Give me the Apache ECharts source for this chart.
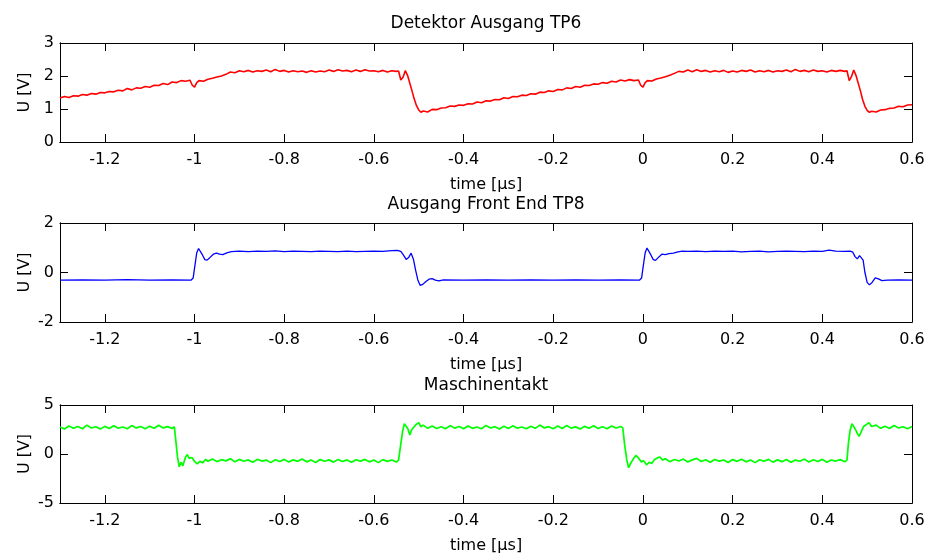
<!DOCTYPE html>
<html><head><meta charset="utf-8">
<script src="https://cdn.jsdelivr.net/npm/echarts@6/dist/echarts.min.js"></script>
<style>html,body{margin:0;padding:0;background:#fff}#c{width:931px;height:555px}</style>
</head><body><div id="c"></div>
<script>
var titles = ['Detektor Ausgang TP6', 'Ausgang Front End TP8', 'Maschinentakt'];
var xName = 'time [\u00b5s]';
var yName = 'U [V]';
var xRange = [-1.3, 0.6];
var yRanges = [[0, 3, 1], [-2, 2, 2], [-5, 5, 5]];

var tRed = [-1.30,-1.29,-1.28,-1.27,-1.26,-1.25,-1.24,-1.23,-1.22,-1.21,-1.20,-1.19,-1.18,-1.17,-1.16,-1.15,-1.14,-1.13,-1.12,-1.11,-1.10,-1.09,-1.08,-1.07,-1.06,-1.05,-1.04,-1.03,-1.02,-1.01,-1.005,-1.000,-0.995,-0.99,-0.98,-0.97,-0.96,-0.95,-0.94,-0.93,-0.92,-0.91,-0.90,-0.89,-0.88,-0.87,-0.86,-0.85,-0.84,-0.83,-0.82,-0.81,-0.80,-0.79,-0.78,-0.77,-0.76,-0.75,-0.74,-0.73,-0.72,-0.71,-0.70,-0.69,-0.68,-0.67,-0.66,-0.65,-0.64,-0.63,-0.62,-0.61,-0.60,-0.59,-0.58,-0.57,-0.56,-0.55,-0.545,-0.540,-0.535,-0.530,-0.525,-0.515,-0.510,-0.505,-0.500,-0.495,-0.49,-0.48,-0.47,-0.46,-0.45,-0.44,-0.43,-0.42,-0.41,-0.40,-0.39,-0.38,-0.37,-0.36,-0.35,-0.34,-0.33,-0.32,-0.31,-0.30,-0.29,-0.28,-0.27,-0.26,-0.25,-0.24,-0.23,-0.22,-0.21,-0.20,-0.19,-0.18,-0.17,-0.16,-0.15,-0.14,-0.13,-0.12,-0.11,-0.10,-0.09,-0.08,-0.07,-0.06,-0.05,-0.04,-0.03,-0.02,-0.01,-0.005,0.000,0.005,0.01,0.02,0.03,0.04,0.05,0.06,0.07,0.08,0.09,0.10,0.11,0.12,0.13,0.14,0.15,0.16,0.17,0.18,0.19,0.20,0.21,0.22,0.23,0.24,0.25,0.26,0.27,0.28,0.29,0.30,0.31,0.32,0.33,0.34,0.35,0.36,0.37,0.38,0.39,0.40,0.41,0.42,0.43,0.44,0.45,0.455,0.460,0.465,0.470,0.475,0.485,0.490,0.495,0.500,0.505,0.51,0.52,0.53,0.54,0.55,0.56,0.57,0.58,0.59,0.60];
var vRed = [1.33,1.38,1.35,1.40,1.39,1.44,1.42,1.47,1.45,1.50,1.49,1.53,1.52,1.57,1.55,1.62,1.58,1.64,1.63,1.68,1.66,1.72,1.71,1.77,1.74,1.82,1.80,1.86,1.84,1.87,1.72,1.66,1.80,1.86,1.84,1.90,1.93,1.97,2.00,2.05,2.12,2.10,2.16,2.13,2.17,2.12,2.16,2.14,2.18,2.13,2.20,2.14,2.17,2.12,2.16,2.13,2.15,2.11,2.16,2.12,2.15,2.13,2.18,2.14,2.19,2.15,2.17,2.13,2.18,2.14,2.19,2.15,2.16,2.13,2.17,2.12,2.16,2.14,2.15,1.88,1.96,2.16,2.02,1.55,1.30,1.10,0.97,0.90,0.94,0.91,0.99,0.98,1.03,1.04,1.09,1.08,1.12,1.11,1.16,1.15,1.21,1.19,1.25,1.24,1.29,1.28,1.34,1.32,1.38,1.37,1.42,1.41,1.46,1.45,1.51,1.50,1.55,1.53,1.59,1.58,1.64,1.62,1.68,1.66,1.72,1.71,1.76,1.75,1.80,1.78,1.84,1.82,1.88,1.85,1.89,1.86,1.88,1.72,1.66,1.80,1.86,1.85,1.91,1.94,1.98,2.02,2.08,2.14,2.12,2.18,2.13,2.19,2.14,2.17,2.12,2.16,2.13,2.17,2.11,2.15,2.12,2.17,2.14,2.18,2.12,2.16,2.13,2.17,2.12,2.16,2.14,2.18,2.13,2.20,2.14,2.17,2.13,2.18,2.14,2.16,2.12,2.17,2.14,2.17,2.14,2.16,1.86,1.98,2.18,2.02,1.55,1.28,1.08,0.96,0.90,0.93,0.91,0.97,0.98,1.02,1.03,1.08,1.07,1.12,1.13];

var tBlue = [-1.30,-1.25,-1.20,-1.15,-1.10,-1.05,-1.008,-1.003,-0.999,-0.995,-0.991,-0.987,-0.982,-0.977,-0.972,-0.966,-0.958,-0.951,-0.944,-0.937,-0.928,-0.918,-0.90,-0.88,-0.86,-0.84,-0.82,-0.80,-0.78,-0.76,-0.74,-0.72,-0.70,-0.68,-0.66,-0.64,-0.62,-0.60,-0.58,-0.56,-0.548,-0.540,-0.534,-0.528,-0.522,-0.517,-0.512,-0.507,-0.502,-0.497,-0.491,-0.484,-0.477,-0.470,-0.463,-0.455,-0.445,-0.40,-0.35,-0.30,-0.25,-0.20,-0.15,-0.10,-0.05,-0.008,-0.003,0.001,0.005,0.009,0.013,0.018,0.023,0.028,0.034,0.042,0.050,0.058,0.068,0.078,0.088,0.10,0.12,0.14,0.16,0.18,0.20,0.22,0.24,0.26,0.28,0.30,0.32,0.34,0.36,0.38,0.40,0.415,0.43,0.45,0.462,0.468,0.473,0.478,0.483,0.487,0.491,0.495,0.500,0.505,0.511,0.518,0.525,0.533,0.545,0.57,0.60];
var vBlue = [-0.31,-0.30,-0.31,-0.29,-0.31,-0.30,-0.31,-0.22,0.30,0.80,0.97,0.92,0.70,0.52,0.50,0.60,0.74,0.78,0.74,0.72,0.79,0.84,0.86,0.84,0.86,0.85,0.87,0.84,0.86,0.85,0.84,0.86,0.85,0.84,0.86,0.84,0.85,0.86,0.85,0.88,0.89,0.85,0.70,0.53,0.62,0.78,0.55,0.10,-0.30,-0.52,-0.48,-0.36,-0.27,-0.25,-0.31,-0.34,-0.30,-0.31,-0.30,-0.31,-0.30,-0.31,-0.30,-0.31,-0.30,-0.31,-0.22,0.30,0.80,0.99,0.93,0.70,0.52,0.49,0.60,0.74,0.72,0.76,0.78,0.83,0.86,0.85,0.86,0.84,0.86,0.85,0.86,0.83,0.85,0.86,0.83,0.85,0.86,0.85,0.84,0.86,0.85,0.90,0.86,0.85,0.86,0.82,0.64,0.55,0.68,0.76,0.50,0.00,-0.40,-0.50,-0.40,-0.22,-0.26,-0.33,-0.31,-0.30,-0.31];

var tGreen = [-1.30,-1.29,-1.28,-1.27,-1.26,-1.25,-1.24,-1.23,-1.22,-1.21,-1.20,-1.19,-1.18,-1.17,-1.16,-1.15,-1.14,-1.13,-1.12,-1.11,-1.10,-1.09,-1.08,-1.07,-1.06,-1.05,-1.045,-1.042,-1.038,-1.034,-1.030,-1.026,-1.020,-1.016,-1.012,-1.006,-1.000,-0.994,-0.988,-0.982,-0.975,-0.97,-0.96,-0.95,-0.94,-0.93,-0.92,-0.91,-0.90,-0.89,-0.88,-0.87,-0.86,-0.85,-0.84,-0.83,-0.82,-0.81,-0.80,-0.79,-0.78,-0.77,-0.76,-0.75,-0.74,-0.73,-0.72,-0.71,-0.70,-0.69,-0.68,-0.67,-0.66,-0.65,-0.64,-0.63,-0.62,-0.61,-0.60,-0.59,-0.58,-0.57,-0.56,-0.55,-0.545,-0.540,-0.536,-0.532,-0.528,-0.524,-0.520,-0.516,-0.510,-0.505,-0.500,-0.495,-0.49,-0.48,-0.47,-0.46,-0.45,-0.44,-0.43,-0.42,-0.41,-0.40,-0.39,-0.38,-0.37,-0.36,-0.35,-0.34,-0.33,-0.32,-0.31,-0.30,-0.29,-0.28,-0.27,-0.26,-0.25,-0.24,-0.23,-0.22,-0.21,-0.20,-0.19,-0.18,-0.17,-0.16,-0.15,-0.14,-0.13,-0.12,-0.11,-0.10,-0.09,-0.08,-0.07,-0.06,-0.05,-0.045,-0.041,-0.036,-0.032,-0.028,-0.022,-0.016,-0.010,-0.004,0.002,0.008,0.014,0.020,0.026,0.032,0.038,0.044,0.05,0.06,0.07,0.08,0.09,0.10,0.11,0.12,0.13,0.14,0.15,0.16,0.17,0.18,0.19,0.20,0.21,0.22,0.23,0.24,0.25,0.26,0.27,0.28,0.29,0.30,0.31,0.32,0.33,0.34,0.35,0.36,0.37,0.38,0.39,0.40,0.41,0.42,0.43,0.44,0.45,0.455,0.458,0.462,0.466,0.470,0.474,0.478,0.482,0.487,0.492,0.498,0.504,0.51,0.52,0.53,0.54,0.55,0.56,0.57,0.58,0.59,0.60];
var vGreen = [2.75,2.55,2.85,2.62,2.80,2.58,2.95,2.65,2.78,2.55,2.82,2.60,2.88,2.63,2.76,2.57,2.90,2.66,2.80,2.58,2.84,2.62,2.93,2.66,2.79,2.60,2.78,1.50,-0.30,-1.30,-0.85,-1.20,-0.30,-0.05,-0.45,-0.35,-0.75,-1.00,-0.75,-0.90,-0.55,-0.75,-0.50,-0.78,-0.58,-0.70,-0.48,-0.80,-0.55,-0.74,-0.60,-0.85,-0.55,-0.72,-0.62,-0.88,-0.58,-0.76,-0.55,-0.82,-0.60,-0.75,-0.52,-0.80,-0.62,-0.86,-0.57,-0.74,-0.60,-0.83,-0.56,-0.77,-0.60,-0.85,-0.58,-0.73,-0.55,-0.80,-0.62,-0.88,-0.57,-0.75,-0.61,-0.82,-0.62,1.00,2.30,3.10,2.90,2.55,1.95,2.45,2.80,3.05,3.20,2.78,2.95,2.62,2.85,2.60,2.78,2.58,2.90,2.64,2.80,2.57,2.86,2.62,2.75,2.58,2.92,2.65,2.79,2.56,2.83,2.61,2.88,2.64,2.76,2.57,2.84,2.62,2.95,2.66,2.79,2.58,2.85,2.61,2.90,2.64,2.77,2.56,2.82,2.63,2.88,2.60,2.78,2.57,2.86,2.65,2.80,2.68,1.00,-0.60,-1.40,-1.00,-0.55,-0.15,-0.40,-0.80,-0.70,-1.10,-0.85,-0.95,-0.55,-0.40,-0.30,-0.62,-0.48,-0.78,-0.56,-0.72,-0.52,-0.82,-0.60,-0.45,-0.76,-0.58,-0.84,-0.56,-0.73,-0.61,-0.86,-0.57,-0.75,-0.54,-0.80,-0.62,-0.88,-0.58,-0.74,-0.55,-0.83,-0.60,-0.78,-0.56,-0.85,-0.62,-0.74,-0.52,-0.81,-0.59,-0.76,-0.55,-0.84,-0.61,-0.72,-0.57,-0.80,-0.62,1.00,2.40,3.10,2.90,2.50,2.10,1.80,2.30,2.80,3.00,3.20,2.80,2.95,2.62,2.84,2.60,2.90,2.65,2.78,2.58,2.80];

var colors = ['#ff0000', '#0000ff', '#00ff00'];
var widths = [1.6, 1.3, 1.7];
var times = [tRed, tBlue, tGreen];
var values = [vRed, vBlue, vGreen];

var FONT = 'DejaVu Sans';
var gridTops = [43, 223, 405];
var gridH = [99, 99, 98];
function mkLine() { return {show: true, onZero: false, lineStyle: {color: '#000'}}; }
function mkTick() { return {show: true, inside: true, length: 8, lineStyle: {color: '#000'}}; }
function mkText(sz) { return {color: '#000', fontSize: sz}; }

var grids = [], xAxes = [], yAxes = [], series = [], texts = [];
// plotting grids with labelled axes
for (var i = 0; i < 3; i++) {
  grids.push({left: 60, right: 19, top: gridTops[i], height: gridH[i]});
  var xl = mkText(16); xl.showMinLabel = false; xl.margin = 10;
  xAxes.push({type: 'value', gridIndex: i, min: xRange[0], max: xRange[1], splitNumber: 10,
    axisLine: mkLine(), axisTick: {show: false}, splitLine: {show: false}, axisLabel: xl,
    name: xName, nameLocation: 'middle', nameGap: 35, nameTextStyle: mkText(16)});
  var yl = mkText(16); yl.margin = 6;
  yAxes.push({type: 'value', gridIndex: i, min: yRanges[i][0], max: yRanges[i][1], interval: yRanges[i][2],
    axisLine: mkLine(), axisTick: {show: false}, splitLine: {show: false}, axisLabel: yl,
    name: yName, nameLocation: 'middle', nameGap: 27, nameRotate: 90, nameMoveOverlap: false,
    nameTextStyle: mkText(16)});
  var data = times[i].map(function (t, k) { return [t, values[i][k]]; });
  series.push({type: 'line', xAxisIndex: i, yAxisIndex: i, data: data, showSymbol: false,
    lineStyle: {color: colors[i], width: widths[i]}});
}
// overlay grids carrying the inward tick marks on all four sides
for (var g = 0; g < 3; g++) {
  grids.push({left: 60, right: 19, top: gridTops[g], height: gridH[g]});
  var gi = 3 + g;
  ['bottom', 'top'].forEach(function (pos) {
    xAxes.push({type: 'value', gridIndex: gi, position: pos, min: xRange[0], max: xRange[1], splitNumber: 10,
      axisLine: mkLine(), axisTick: mkTick(), splitLine: {show: false}, axisLabel: {show: false}});
  });
  ['left', 'right'].forEach(function (pos) {
    yAxes.push({type: 'value', gridIndex: gi, position: pos, min: yRanges[g][0], max: yRanges[g][1], interval: yRanges[g][2],
      axisLine: mkLine(), axisTick: mkTick(), splitLine: {show: false}, axisLabel: {show: false}});
  });
}
var titleY = [24, 205, 386];
for (var j = 0; j < 3; j++) {
  texts.push({type: 'text', x: 486, y: titleY[j], style: {text: titles[j], fill: '#000',
    font: '17px "DejaVu Sans"', textAlign: 'center', textVerticalAlign: 'middle'}});
}
var chart = echarts.init(document.getElementById('c'));
chart.setOption({animation: false, textStyle: {fontFamily: FONT}, graphic: texts, grid: grids,
  xAxis: xAxes, yAxis: yAxes, series: series});
</script></body></html>
